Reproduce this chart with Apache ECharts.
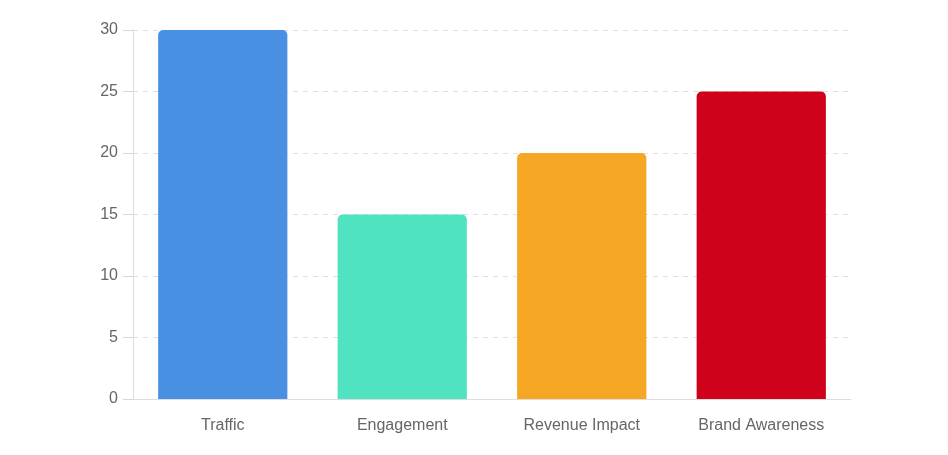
<!DOCTYPE html>
<html>
<head>
<meta charset="utf-8">
<script src="https://cdn.jsdelivr.net/npm/echarts@6/dist/echarts.min.js"></script>
<style>
  html, body { margin: 0; padding: 0; background: #fff; }
  #chart { width: 948px; height: 455px; }
</style>
</head>
<body>
<div id="chart"></div>
<script>
// chart data
var categories = ['Traffic', 'Engagement', 'Revenue Impact', 'Brand Awareness'];
var values = [30, 15, 20, 25];
var barColors = ['#4A90E2', '#50E3C2', '#F5A623', '#D0021B'];

var chart = echarts.init(document.getElementById('chart'));

chart.setOption({
  animation: false,
  grid: { left: 133, right: 97, top: 30, bottom: 56 },
  xAxis: {
    type: 'category',
    data: categories,
    axisLine: { lineStyle: { color: '#dddddd' } },
    axisTick: { show: false },
    axisLabel: { color: '#666666', fontSize: 16, margin: 19, fontFamily: 'Liberation Sans, Helvetica, Arial, sans-serif' }
  },
  yAxis: {
    type: 'value',
    min: 0,
    max: 30,
    interval: 5,
    axisLine: { show: true, lineStyle: { color: '#dddddd' } },
    axisTick: { show: true, length: 10, lineStyle: { color: '#d6d6d6' } },
    // nudge labels down a touch, like the reference
    axisLabel: { color: '#666666', fontSize: 16, margin: 15, padding: [3, 0, 0, 0], fontFamily: 'Liberation Sans, Helvetica, Arial, sans-serif' },
    splitLine: { lineStyle: { color: '#e0e0e0', type: [5, 5] } }
  },
  series: [{
    type: 'bar',
    barWidth: '72%',
    data: values.map(function (v, i) {
      return { value: v, itemStyle: { color: barColors[i], borderRadius: [5, 5, 0, 0] } };
    })
  }]
});
</script>
</body>
</html>
